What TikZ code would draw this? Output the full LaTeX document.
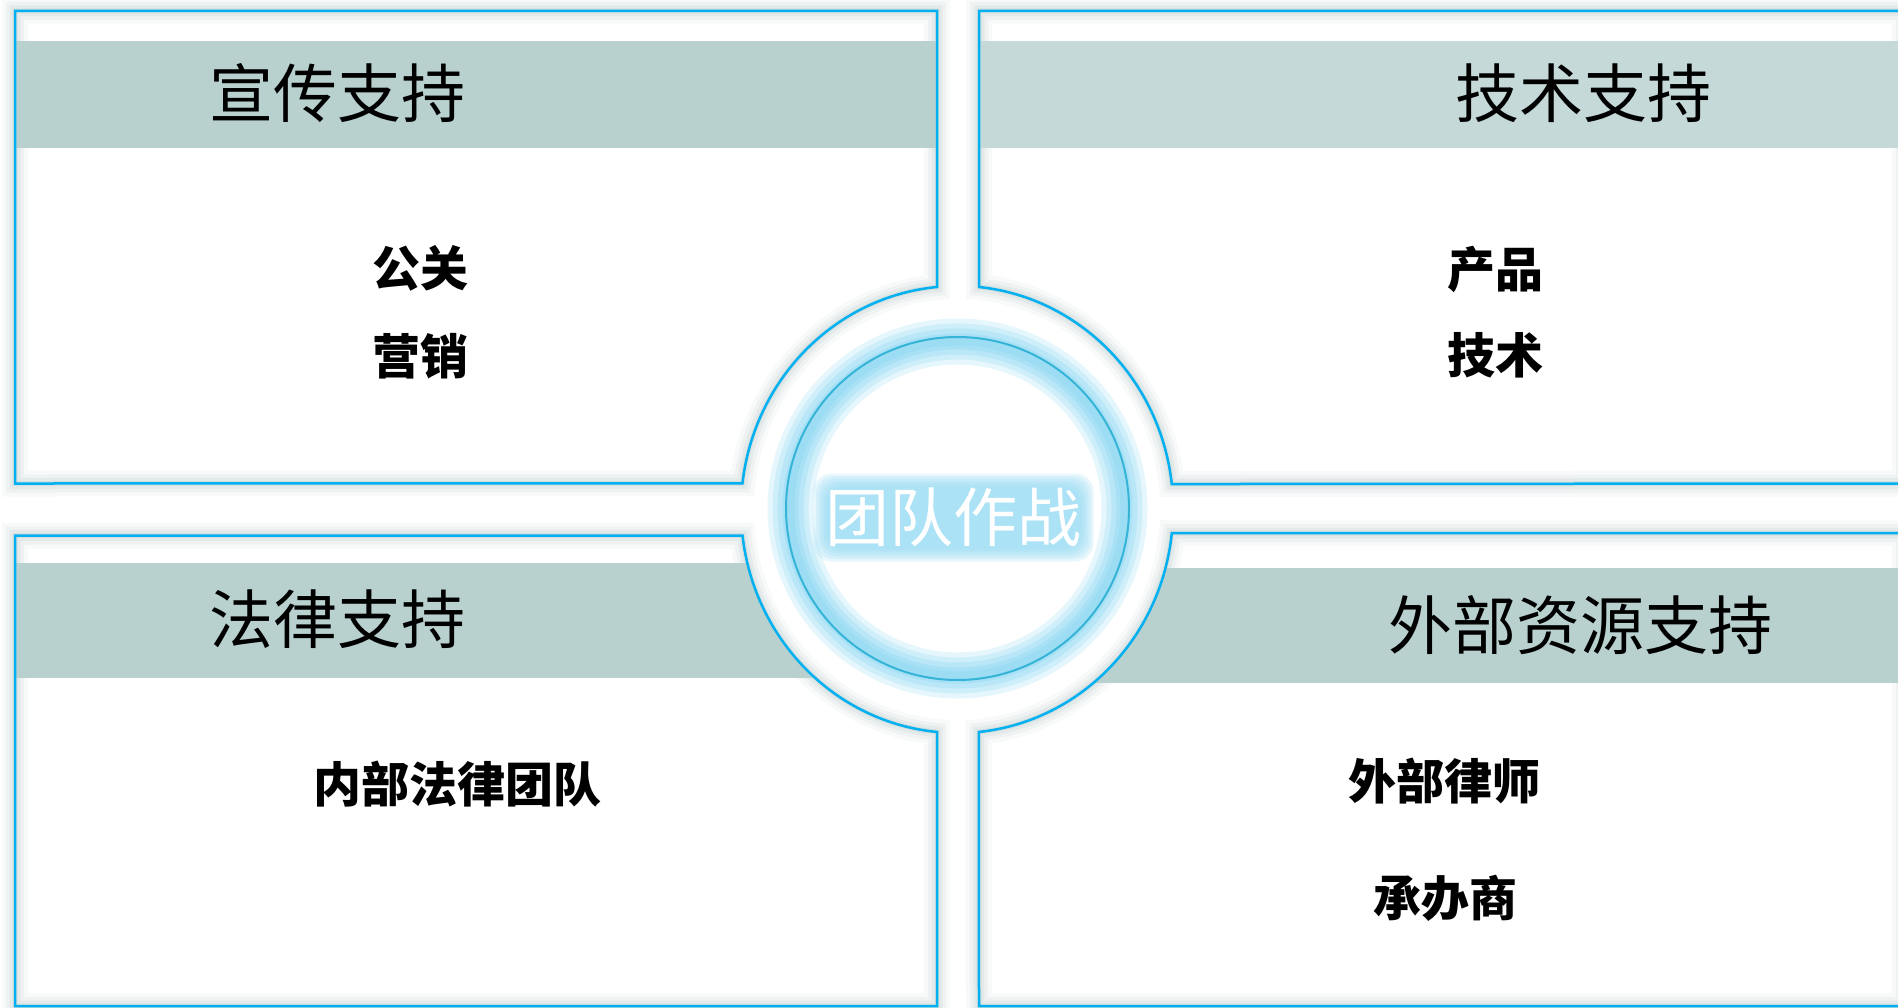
\documentclass[tikz,border=0pt]{standalone}
\usepackage{fontspec}
\newfontfamily\cjk{Noto Sans CJK SC}
\definecolor{edgeblue}{HTML}{00B0F0}
\definecolor{bandA}{HTML}{B8D1CE}
\definecolor{bandB}{HTML}{C5DAD8}
\definecolor{shadowgray}{HTML}{7F9B9B}
\definecolor{glowblue}{HTML}{8AD8F4}
\definecolor{ringline}{HTML}{35B4D8}
\definecolor{textglow}{HTML}{96DBF5}
\tikzset{
  title/.style={font=\cjk\fontsize{64}{70}\selectfont, text=black, inner sep=0pt},
  item/.style={font=\cjk\bfseries\fontsize{48}{56}\selectfont, text=black, inner sep=0pt},
  outline/.style={draw=edgeblue, line width=2.5pt, line join=miter},
}
\begin{document}
\begin{tikzpicture}[x=1pt,y=-1pt]
\useasboundingbox (0,0) rectangle (1898,1008);
\fill[white] (0,0) rectangle (1898,1008);
\def\pTL{(15,11) -- (937,11) -- (937,287) arc[start angle=95.3, end angle=173.3, x radius=216pt, y radius=223.5pt] -- (15,483.5) -- cycle}
\def\pTR{(1905,11) -- (979,11) -- (979,287) arc[start angle=84.2, end angle=6.5, x radius=216pt, y radius=223.5pt] -- (1905,483.5) -- cycle}
\def\pBL{(15,535.5) -- (742.5,535.5) arc[start angle=186.7, end angle=264.7, x radius=216pt, y radius=223.5pt] -- (937,1006) -- (15,1006) -- cycle}
\def\pBR{(1905,533) -- (1171.8,533) arc[start angle=-6, end angle=-84.2, x radius=216pt, y radius=223.5pt] -- (979,1006) -- (1905,1006) -- cycle}
% soft grey shadows of the four panels
\foreach \w/\o in {26/0.05,18/0.07,11/0.09,5/0.12}{
  \draw[shadowgray, line width=\w pt, opacity=\o] \pTL;
  \draw[shadowgray, line width=\w pt, opacity=\o] \pTR;
  \draw[shadowgray, line width=\w pt, opacity=\o] \pBL;
  \draw[shadowgray, line width=\w pt, opacity=\o] \pBR;
}
% header bands
\begin{scope}\clip \pTL; \fill[bandA] (0,41) rectangle (1898,148); \end{scope}
\begin{scope}\clip \pTR; \fill[bandB] (0,41) rectangle (1898,148); \end{scope}
\begin{scope}\clip \pBL; \fill[bandA] (0,563) rectangle (1898,678); \end{scope}
\begin{scope}\clip \pBR; \fill[bandA] (0,568) rectangle (1898,683); \end{scope}
% blue outlines
\draw[outline] \pTL;
\draw[outline] \pTR;
\draw[outline] \pBL;
\draw[outline] \pBR;
% central glowing circle
\coordinate (ctr) at (957.5,508.5);
\foreach \w/\o in {46/0.22,36/0.25,26/0.3,16/0.35,8/0.4}{
  \draw[glowblue, line width=\w pt, opacity=\o] (ctr) circle[radius=167pt];
}
\draw[ringline, line width=2pt] (ctr) circle[radius=171.5pt];
% soft glow behind the centre text
\coordinate (tc) at (953.5,517.5);
\foreach \i in {0,1,2,3,4,5}{
  \fill[textglow, opacity=0.22, rounded corners=18pt]
    ([shift={(-140+2.5*\i,-44+2.5*\i)}]tc) rectangle ([shift={(140-2.5*\i,44-2.5*\i)}]tc);
}
\node[title, text=white] (core) at (tc) {团队作战};
% titles
\node[title] (t1) at (337.5,93) {宣传支持};
\node[title] (t2) at (1583,93) {技术支持};
\node[title] (t3) at (337,619) {法律支持};
\node[title] (t4) at (1580,625.5) {外部资源支持};
% items
\node[item] (a1) at (420,268.5) {公关};
\node[item] (a2) at (420,356.5) {营销};
\node[item] (b1) at (1495.5,269.5) {产品};
\node[item] (b2) at (1495.5,355.5) {技术};
\node[item] (c1) at (457,784.5) {内部法律团队};
\node[item] (d1) at (1444,781) {外部律师};
\node[item] (d2) at (1445,898) {承办商};
\end{tikzpicture}
\end{document}
